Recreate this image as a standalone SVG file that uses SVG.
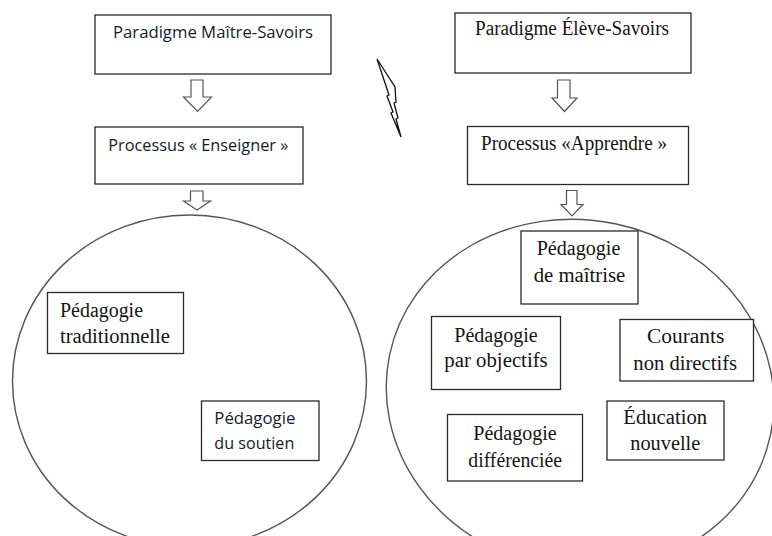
<svg xmlns="http://www.w3.org/2000/svg" width="772" height="536" viewBox="0 0 772 536">
<style>
.bg{fill:#ffffff}
.box{fill:#ffffff;stroke:#2a2a2a;stroke-width:1.3}
.oval{fill:#ffffff;stroke:#555555;stroke-width:1.4}
.arrow{fill:#ffffff;stroke:#555555;stroke-width:1.2;stroke-linejoin:miter}
.sans{font-family:"Open Sans","Liberation Sans",sans-serif;font-size:16px;fill:#141c28}
.serif{font-family:"Liberation Serif","Times New Roman",serif;font-size:20px;fill:#141414}
.bolt{fill:#ffffff;stroke:#111111;stroke-width:1.3;stroke-linejoin:miter}
</style>
<rect class="bg" x="0" y="0" width="772" height="536"/>

<g id="left-oval"><ellipse class="oval" cx="189.5" cy="381" rx="177" ry="166"/></g>
<g id="right-oval"><ellipse class="oval" cx="580" cy="395" rx="194.6" ry="174.8" transform="rotate(12 580 395)"/></g>

<g id="paradigme-maitre">
<rect class="box" x="95" y="15" width="236" height="59"/>
<text class="sans" x="213" y="38.3" text-anchor="middle" textLength="200" lengthAdjust="spacingAndGlyphs">Paradigme Maître-Savoirs</text>
</g>
<g id="processus-enseigner">
<rect class="box" x="95" y="127" width="208" height="57"/>
<text class="sans" x="198.3" y="150.7" text-anchor="middle" textLength="180" lengthAdjust="spacingAndGlyphs">Processus « Enseigner »</text>
</g>
<g id="paradigme-eleve">
<rect class="box" x="455" y="13" width="236" height="60"/>
<text class="serif" x="572" y="35" text-anchor="middle" textLength="194" lengthAdjust="spacingAndGlyphs">Paradigme Élève-Savoirs</text>
</g>
<g id="processus-apprendre">
<rect class="box" x="467.5" y="126.5" width="221" height="58"/>
<text class="serif" x="574" y="150" text-anchor="middle" textLength="186" lengthAdjust="spacingAndGlyphs">Processus «Apprendre »</text>
</g>

<g id="ped-traditionnelle">
<rect class="box" x="47.5" y="292.5" width="136" height="61"/>
<text class="serif" x="60" y="316.7" textLength="83" lengthAdjust="spacingAndGlyphs">Pédagogie</text>
<text class="serif" x="60" y="342.7" textLength="110" lengthAdjust="spacingAndGlyphs">traditionnelle</text>
</g>
<g id="ped-soutien">
<rect class="box" x="201.5" y="401" width="117.5" height="59.5"/>
<text class="sans" x="214.3" y="424" textLength="81" lengthAdjust="spacingAndGlyphs">Pédagogie</text>
<text class="sans" x="214.3" y="449.3" textLength="80" lengthAdjust="spacingAndGlyphs">du soutien</text>
</g>

<g id="ped-maitrise">
<rect class="box" x="521" y="231" width="117" height="73"/>
<text class="serif" x="578.5" y="255" text-anchor="middle" textLength="83.7" lengthAdjust="spacingAndGlyphs">Pédagogie</text>
<text class="serif" x="579.5" y="281.7" text-anchor="middle" textLength="91.7" lengthAdjust="spacingAndGlyphs">de maîtrise</text>
</g>
<g id="ped-objectifs">
<rect class="box" x="431.5" y="316.5" width="129" height="73"/>
<text class="serif" x="496" y="341.7" text-anchor="middle" textLength="83.4" lengthAdjust="spacingAndGlyphs">Pédagogie</text>
<text class="serif" x="496" y="366.7" text-anchor="middle" textLength="103.4" lengthAdjust="spacingAndGlyphs">par objectifs</text>
</g>
<g id="courants-non-directifs">
<rect class="box" x="620" y="319.5" width="133.5" height="61.5"/>
<text class="serif" x="685.7" y="343.3" text-anchor="middle" textLength="77.3" lengthAdjust="spacingAndGlyphs">Courants</text>
<text class="serif" x="685.2" y="370" text-anchor="middle" textLength="103.7" lengthAdjust="spacingAndGlyphs">non directifs</text>
</g>
<g id="ped-differenciee">
<rect class="box" x="447.5" y="414.5" width="135" height="66.5"/>
<text class="serif" x="515" y="440" text-anchor="middle" textLength="83.4" lengthAdjust="spacingAndGlyphs">Pédagogie</text>
<text class="serif" x="515.2" y="466.7" text-anchor="middle" textLength="93.7" lengthAdjust="spacingAndGlyphs">différenciée</text>
</g>
<g id="education-nouvelle">
<rect class="box" x="607" y="401" width="117" height="59"/>
<text class="serif" x="665.2" y="424" text-anchor="middle" textLength="83.7" lengthAdjust="spacingAndGlyphs">Éducation</text>
<text class="serif" x="665.3" y="450" text-anchor="middle" textLength="70" lengthAdjust="spacingAndGlyphs">nouvelle</text>
</g>

<g id="connectors">
<polygon class="arrow" points="191,80 203,80 203,97 211.5,97 197.5,111.5 183.5,97 191,97"/>
<polygon class="arrow" points="190.5,191 203,191 203,201 210.5,201 197,210 183.5,201 190.5,201"/>
<polygon class="arrow" points="557.5,80 570,80 570,98 577,98 564.5,111.5 552,98 557.5,98"/>
<polygon class="arrow" points="566.5,190.5 577,190.5 577,204.5 583,204.5 572,216 561,204.5 566.5,204.5"/>
</g>

<g id="lightning">
<polygon class="bolt" points="377,59 395,87 396,102 394,103 398,118 396,119 401,137 391,113 393,112 387,96 389,95"/>
</g>
</svg>
